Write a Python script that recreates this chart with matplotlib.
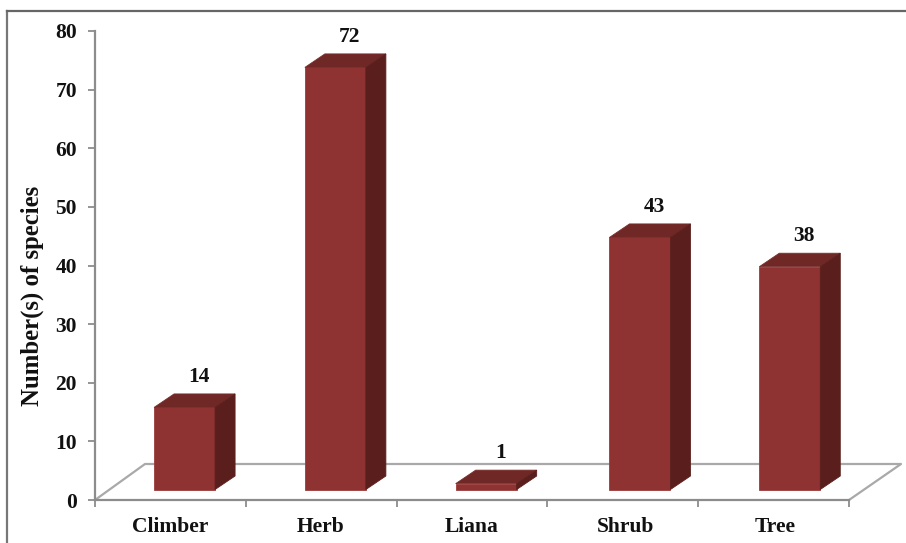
import matplotlib
matplotlib.use("Agg")
import matplotlib.pyplot as plt
from matplotlib.patches import Polygon
from matplotlib.lines import Line2D

categories = ["Climber", "Herb", "Liana", "Shrub", "Tree"]
values = [14, 72, 1, 43, 38]
y_ticks = [0, 10, 20, 30, 40, 50, 60, 70, 80]
y_label = "Number(s) of species"

W, H = 906, 543
plt.rcParams['font.family'] = ['Liberation Serif', 'DejaVu Serif']
fig = plt.figure(figsize=(W / 100, H / 100), dpi=100, facecolor="white")
L, R, T, B = 95, 849, 31, 500
ax = fig.add_axes([L / W, 1 - B / H, (R - L) / W, (B - T) / H])
ax.set_xlim(0, 5)
ax.set_ylim(0, 80)
ax.patch.set_visible(False)

px_x = 5 / (R - L)
px_y = 80 / (B - T)
dx, dy = 20 * px_x, 13.5 * px_y       # 3-D depth of a bar
base = 10.5 * px_y                    # bar floor above the axis
half = 30.5 * px_x
nudge_px = [0, 0, 0, 3, 2]
centers = [i + 0.594 + n * px_x for i, n in enumerate(nudge_px)]

# floor
floor = [(0, 0), (50 * px_x, 36 * px_y), (806 * px_x, 36 * px_y), (5, 0)]
ax.add_line(Line2D(*zip(*floor), color="#a9a9a9", lw=1.6, clip_on=False, zorder=1))

FRONT, TOP, SIDE = "#8f3232", "#6f2826", "#5a1f1c"
for c, v in zip(centers, values):
    x0, x1 = c - half, c + half
    y0, y1 = base, base + v
    ax.add_patch(Polygon([(x0, y0), (x1, y0), (x1, y1), (x0, y1)], fc=FRONT, ec="#9c3a3a", lw=0.6, zorder=3, clip_on=False))
    ax.add_patch(Polygon([(x0, y1), (x1, y1), (x1 + dx, y1 + dy), (x0 + dx, y1 + dy)], fc=TOP, ec="#7a2e2c", lw=0.6, zorder=3, clip_on=False))
    ax.add_patch(Polygon([(x1, y0), (x1 + dx, y0 + dy), (x1 + dx, y1 + dy), (x1, y1)], fc=SIDE, ec="#5a1f1c", lw=0.6, zorder=3, clip_on=False))
    ax.text(c + 14 * px_x, y1 + dy + 7 * px_y, str(v), ha="center", va="bottom",
            fontsize=15.5, fontweight="bold", color="#111111", zorder=4)

for s in ("top", "right"):
    ax.spines[s].set_visible(False)
for s in ("left", "bottom"):
    ax.spines[s].set_color("#8c8c8c")
    ax.spines[s].set_linewidth(1.6)
ax.set_yticks(y_ticks)
ax.set_xticks(range(6))
ax.set_xticklabels([""] * 6)
ax.tick_params(axis="both", color="#8c8c8c", width=1.3, length=5)
ax.tick_params(axis="y", pad=8, labelsize=15.5, labelcolor="#111111")
for t in ax.get_yticklabels():
    t.set_fontweight("bold")
for c, name in zip(centers, categories):
    ax.text(c - 14.5 * px_x, -27 * px_y, name, ha="center", va="center", fontsize=15.5,
            fontweight="bold", color="#111111", clip_on=False)

fig.text(32 / W, 1 - 296 / H, y_label, rotation=90, ha="center", va="center",
         fontsize=17.8, fontweight="bold", color="#111111")

# picture frame: top and left edges only
fig.add_artist(Line2D([7 / W, 7 / W], [0, 1 - 11 / H], color="#777777", lw=1.6))
fig.add_artist(Line2D([7 / W, 1], [1 - 11 / H, 1 - 11 / H], color="#666666", lw=1.6))

fig.savefig("out.png", dpi=100)
